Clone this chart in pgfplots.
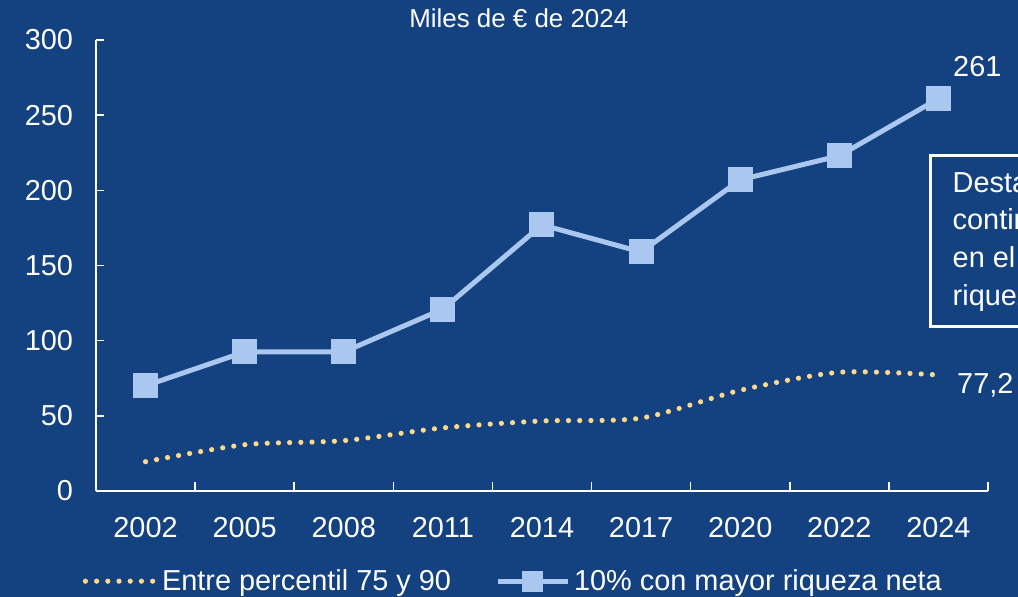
\documentclass[border=0pt]{standalone}
\usepackage{pgfplots}
\pgfplotsset{compat=1.18}
\usepackage{fontspec}
\setmainfont{Liberation Sans}
\definecolor{bgblue}{HTML}{14417F}
\definecolor{lineblue}{HTML}{A9C7EF}
\definecolor{dotyellow}{HTML}{FFD98A}
\pgfplotsset{
  dotleg/.style={legend image code/.code={\draw[##1] (0bp,0bp) -- (35bp,0bp);}},
  sqleg/.style={legend image code/.code={\draw[mark repeat=2,mark phase=2,mark size=5bp,##1] plot coordinates {(0bp,0bp) (17.5bp,0bp) (35bp,0bp)};}},
}
\begin{document}
\begin{tikzpicture}
\useasboundingbox (-48bp,-53bp) rectangle (461bp,245.5bp);
\clip (-48bp,-53bp) rectangle (461bp,245.5bp);
\fill[bgblue] (-48bp,-53bp) rectangle (461bp,245.5bp);
\begin{axis}[
  scale only axis, width=446bp, height=225.5bp,
  clip=false,
  xmin=-0.5, xmax=8.5, ymin=0, ymax=300,
  axis x line*=bottom, axis y line*=left,
  axis line style={white, line width=0.8bp},
  xtick={0,...,8},
  xticklabels={2002,2005,2008,2011,2014,2017,2020,2022,2024},
  minor xtick={-0.5,0.5,...,8.5},
  ytick={0,50,...,300},
  tick align=inside,
  major tick length=4bp, minor tick length=4.5bp,
  tick style={white, line width=0.8bp},
  major x tick style={draw=none},
  minor x tick style={white, line width=0.8bp},
  ticklabel style={font=\fontsize{14.5}{17}\selectfont, text=white},
  xticklabel style={yshift=-9.5bp},
  yticklabel style={xshift=-8bp},
  /pgf/number format/assume math mode=true,
  legend style={at={(0.469,-0.2)}, anchor=center, draw=none, fill=none,
    legend columns=2, text=white, font=\fontsize{14.5}{17}\selectfont,
    /tikz/every even column/.append style={column sep=20bp}},
  legend cell align=left,
]
\addplot[dotyellow, line width=2.6bp, line cap=round,
  dash pattern=on 0pt off 5.6bp, smooth, tension=0.45, mark=none, dotleg]
  coordinates {(0,19.5) (1,30.8) (2,33.5) (3,42) (4,46.6) (5,48.5) (6,67) (7,79) (8,77.2)};
\addlegendentry{Entre percentil 75 y 90}
\addplot[lineblue, line width=2.5bp, mark=square*,
  mark options={rounded corners=1.5bp, line width=0.5bp}, mark size=6bp, sqleg]
  coordinates {(0,70) (1,92.5) (2,92.5) (3,121) (4,177) (5,159) (6,207) (7,223) (8,261)};
\addlegendentry{10\% con mayor riqueza neta}
\node[font=\fontsize{13}{15}\selectfont, text=white, anchor=center]
  at (rel axis cs:0.474,1.049) {Miles de € de 2024};
\node[font=\fontsize{14.5}{17}\selectfont, text=white, anchor=center]
  at (rel axis cs:0.988,0.942) {261};
\node[font=\fontsize{14.5}{17}\selectfont, text=white, anchor=center]
  at (rel axis cs:0.997,0.235) {77,2};
\draw[white, line width=1.5bp, fill=bgblue]
  (rel axis cs:0.936,0.745) rectangle (rel axis cs:1.3,0.364);
\node[font=\fontsize{14.5}{19}\selectfont, text=white, anchor=north west,
  align=left, inner sep=0pt]
  at (rel axis cs:0.96,0.71) {Destaca el aumento\\continuado de la brecha\\en el grupo con mayor\\riqueza neta};
\end{axis}
\end{tikzpicture}
\end{document}
